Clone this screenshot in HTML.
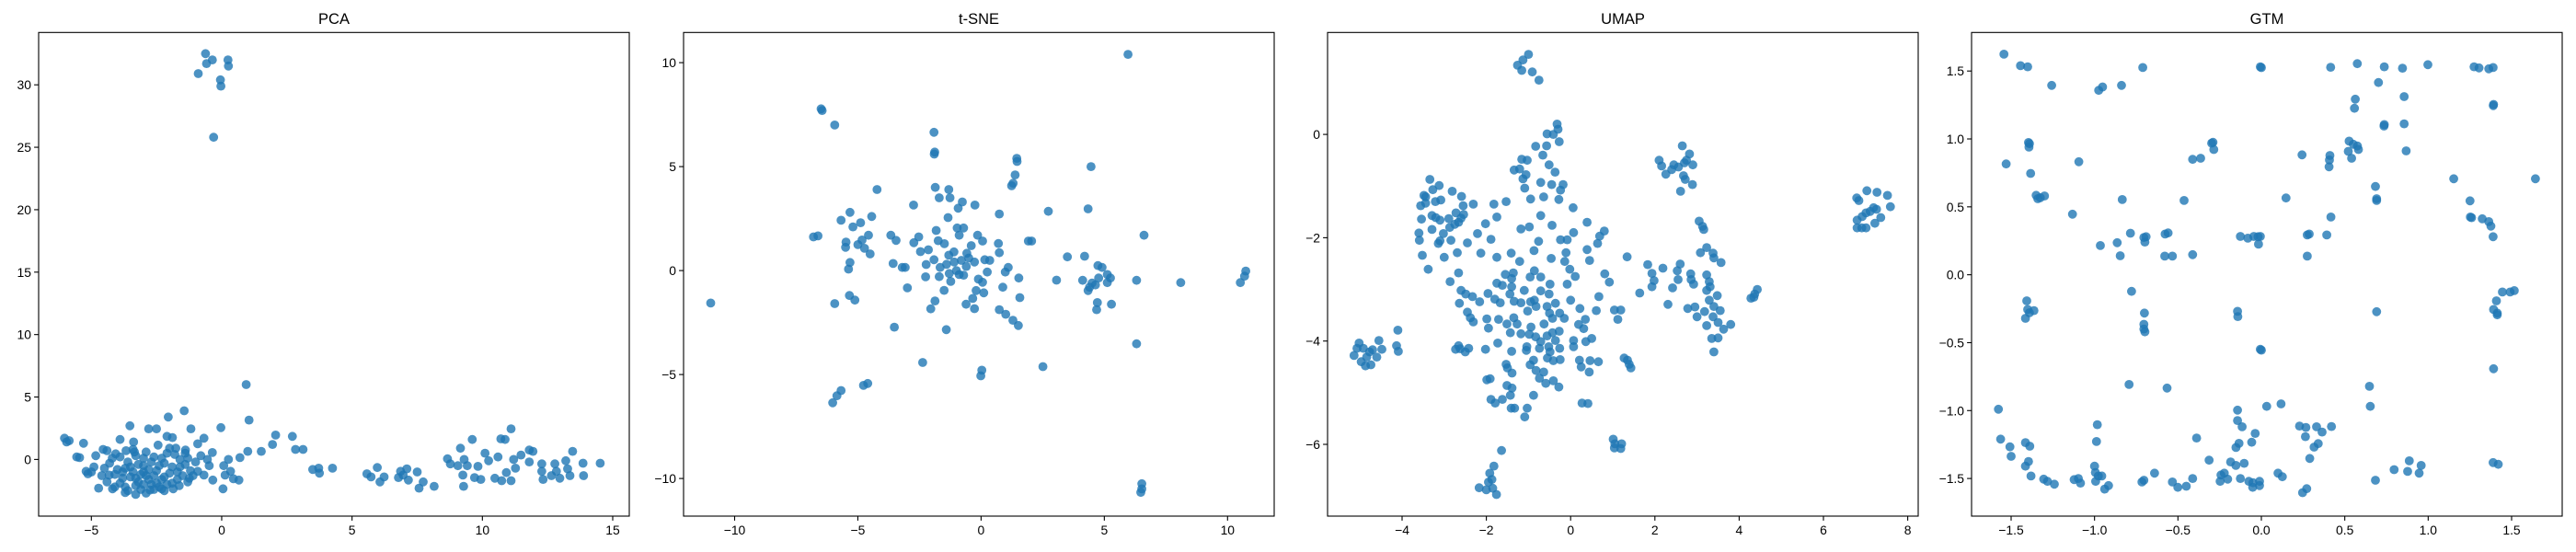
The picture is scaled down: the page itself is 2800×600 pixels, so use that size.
<!DOCTYPE html>
<html><head><meta charset="utf-8"><style>
html,body{margin:0;padding:0;background:#fff;}
svg{display:block;font-family:"Liberation Sans","DejaVu Sans",sans-serif;}
</style></head><body>
<svg id="fig" width="2800" height="600" viewBox="0 0 2800 600" xmlns="http://www.w3.org/2000/svg"></svg>
<script>
const pcaPoints=[[-0.62,32.5],[-0.36,32.0],[-0.58,31.7],[-0.9,30.9],[0.24,32.0],[0.26,31.5],[-0.05,30.4],[-0.03,29.9],[-0.31,25.8],
[0.94,6.0],[-1.44,3.9],[1.05,3.15],[-2.05,3.4],[-3.52,2.7],[-1.18,2.45],[-2.8,2.45],[-2.5,2.45],[-0.03,2.55],[-3.9,1.6],[-3.38,1.4],[-2.1,1.85],[-1.89,1.75],[-0.68,1.7],[-6.03,1.7],[-5.85,1.5],[-5.3,1.3],[-5.95,1.4],
[2.07,1.95],[2.71,1.85],[1.95,1.2],[2.83,0.8],[3.12,0.8],[1.52,0.65],[1.0,0.65],[0.7,0.15],[0.26,0],[-0.36,0.55],[0.08,-0.5],[0.34,-0.95],[0.45,-1.55],[0.66,-1.65],[0.05,-2.35],[0.13,-1.25],[-0.34,-1.65],
[3.49,-0.8],[3.72,-0.7],[3.75,-1.1],[4.25,-0.7],
[5.57,-1.15],[5.73,-1.4],[5.97,-0.65],[6.07,-1.8],[6.23,-1.4],[6.78,-1.45],[6.86,-0.95],[7.1,-0.75],[7.16,-1.65],[7.5,-1.0],[7.57,-2.3],[7.73,-1.8],[8.15,-2.15],[6.96,-1.25],
[8.66,0.05],[9.16,0.9],[9.61,1.6],[8.77,-0.35],[9.06,-0.5],[9.3,0],[9.42,-0.5],[9.25,-1.25],[9.28,-2.15],[9.7,-1.45],[9.83,-0.55],[9.94,-1.6],[10.1,0.5],[10.24,-0.1],[10.6,0.2],[10.48,-1.5],[10.71,1.65],[10.87,1.6],[11.1,2.45],[10.74,-1.7],[10.92,-1.05],[11.1,-1.7],[11.2,0],[11.27,-0.7],[11.48,0.35],[11.8,0.75],[11.94,0.65],[11.8,-0.2],[12.28,-0.35],[12.28,-0.95],[12.33,-1.6],[12.65,-1.3],[12.78,-0.35],[12.84,-0.95],[12.97,-1.5],[13.2,-0.1],[13.27,-0.75],[13.36,-1.3],[13.46,0.65],[13.86,-0.3],[13.88,-1.3],[14.52,-0.3],
[-5.56,0.2],[-5.45,0.15],[-5.2,-0.95],[-5.13,-1.15],[-4.72,-2.3],[-4.55,0.8],[-4.4,0.7],[-4.83,0.3],[-4.32,-1.25],[-4.19,-2.35],[-3.3,-2.8],[-3.7,-2.65],[-2.75,-2.45],[-2.3,-2.35],[-1.86,-2.35],[-1.63,-2.1],[-1.24,-1.5],[-0.92,-0.95],[-0.68,-1.25],[-0.48,-0.5],[-0.55,0],[-0.92,1.25],[-1.39,0.75],[-1.76,0.9],[-2.44,1.15],[-3.35,0.6],[-3.67,0.7],[-4.07,0.45],
[-4.3,-0.3],[-4.0,-0.8],[-3.8,-1.5],[-3.6,-0.2],[-3.4,-1.0],[-3.2,-1.8],[-3.0,-0.5],[-2.9,-1.3],[-2.7,-2.0],[-2.6,0.2],[-2.5,-0.9],[-2.3,-1.6],[-2.2,-0.3],[-2.0,-1.1],[-1.9,-1.9],[-1.8,0.4],[-1.6,-0.6],[-1.5,-1.3],[-1.3,0.1],[-1.2,-0.9],[-3.9,0.2],[-3.7,-2.2],[-3.3,0.3],[-3.1,-2.4],[-2.8,-1.6],[-2.4,-2.2],[-2.1,0.5],[-1.7,-1.6],[-4.6,-1.3],[-4.4,-1.8],[-4.1,-2.2],[-3.5,-1.4],[-3.0,-1.0],[-2.7,-0.2],[-3.2,-0.4],[-2.4,-0.5],[-1.0,-0.2],[-0.8,0.3],[-3.8,-1.0],[-4.9,-0.6],[-5.0,-1.0],[-3.6,-2.5],[-2.9,-2.7],[-2.2,-2.5],[-3.4,0.8],[-2.9,0.6],[-2.0,0.9],[-1.4,0.5],
[-4.1,-1.2],[-3.9,-1.9],[-3.5,-0.6],[-3.3,-2.1],[-3.1,-1.2],[-2.8,-0.8],[-2.6,-1.3],[-2.5,-1.9],[-2.2,-1.4],[-1.9,-0.6],[-1.7,-1.0],[-1.4,-0.4],[-4.2,0.1],[-3.0,0.1],[-2.3,0.1],[-1.6,0.0],[-3.7,-0.7],[-3.3,-1.5],[-2.6,-2.4],[-1.3,-1.8],[-4.5,-0.7],[-3.0,-2.0],[-2.1,-2.0],[-1.1,-1.3]];
const pcaXTicks=[-5,0,5,10,15];
const pcaYTicks=[0,5,10,15,20,25,30];

const tsnePoints=[[5.96,10.4],[-6.49,7.78],[-6.45,7.7],[-5.94,7.0],[-1.91,6.65],[-1.9,5.6],[-1.88,5.7],[1.45,5.4],[1.46,5.25],[4.46,5.0],[1.38,4.6],[1.24,4.08],[1.3,4.2],[-4.22,3.9],[-1.86,4.0],[-1.31,3.9],[-1.26,3.5],[-1.7,3.5],[-0.76,3.3],[-0.25,3.15],[-2.74,3.15],[2.73,2.85],[4.34,2.97],[0.74,2.72],[-0.93,3.0],[-1.34,2.55],[-5.32,2.8],[-4.44,2.6],[-5.68,2.42],[-4.89,2.3],[-5.2,2.1],[-6.62,1.67],[-6.8,1.62],[-1.82,1.93],[-0.97,2.05],[-0.71,2.05],[-3.66,1.7],[-3.45,1.45],[-2.53,1.62],[-2.73,1.34],[-2.46,0.91],[-2.14,1.0],[-1.74,1.44],[-1.49,1.29],[-0.89,1.7],[-0.14,1.7],[0.06,1.42],[-0.4,1.2],[0.7,1.3],[0.74,0.86],[2.05,1.42],[1.92,1.42],[6.61,1.7],[3.5,0.66],[4.2,0.69],[-4.57,1.7],[-4.83,1.47],[-5.0,1.25],[-5.48,1.37],[-5.5,1.12],[-4.73,1.07],[-4.5,0.8],[-5.32,0.39],[-5.38,0.07],[-3.57,0.34],[-3.2,0.15],[-3.08,0.15],[-2.23,0.29],[-1.91,0.52],[-1.66,0.15],[-1.31,0.74],[-1.09,0.41],[-0.8,0.49],[-0.58,0.83],[-0.27,0.41],[0.15,0.52],[0.35,0.49],[1.1,0.15],[0.98,-0.07],[0.25,-0.07],[-0.11,-0.41],[0.06,-0.56],[-1.29,-0.14],[-1.7,-0.29],[-1.23,-0.52],[-0.89,-0.19],[-0.71,-0.22],[1.53,-0.36],[3.06,-0.46],[4.12,-0.47],[4.34,-0.96],[4.74,0.24],[4.91,0.15],[5.12,-0.19],[5.25,-0.36],[5.12,-0.58],[4.64,-0.69],[6.31,-0.47],[8.1,-0.58],[10.74,-0.02],[10.69,-0.27],[10.52,-0.58],[5.29,-1.62],[4.72,-1.54],[4.69,-1.88],[-10.97,-1.56],[-5.94,-1.59],[-5.34,-1.2],[-5.12,-1.42],[-2.99,-0.83],[-2.25,-0.3],[-1.5,-0.95],[-0.2,-0.96],[0.11,-1.07],[0.88,-0.8],[1.57,-1.3],[-1.87,-1.46],[-2.04,-1.84],[-0.61,-1.62],[-0.27,-1.83],[-0.34,-1.34],[0.74,-1.88],[1.0,-2.1],[1.51,-2.64],[1.29,-2.39],[-3.52,-2.72],[-1.41,-2.84],[6.31,-3.52],[-2.37,-4.42],[2.51,-4.62],[0.03,-4.79],[-0.01,-5.06],[-4.6,-5.43],[-4.77,-5.52],[-5.68,-5.77],[-5.85,-6.02],[-6.02,-6.36],[6.52,-10.25],[6.52,-10.5],[6.48,-10.67],[4.77,-0.36],[-1.1,0.9],[-0.5,0.6],[-1.0,0.0],[-0.6,0.2],[-1.4,0.3],[4.4,-0.8],[4.5,-0.6]];
const tsneXTicks=[-10,-5,0,5,10];
const tsneYTicks=[-10,-5,0,5,10];

const umapPoints=[[-1.0,1.55],[-1.13,1.44],[-1.26,1.34],[-1.16,1.24],[-0.91,1.21],[-0.75,1.05],[-0.32,0.2],[-0.3,0.1],[-0.56,0.01],[-0.41,0],[-0.27,-0.14],[-0.83,-0.23],[-0.57,-0.22],[-0.66,-0.4],[-1.16,-0.48],[-1.03,-0.5],[-1.34,-0.69],[-1.21,-0.67],[-0.51,-0.59],[-0.37,-0.73],[-1.06,-0.78],[-1.13,-0.86],[-0.71,-0.93],[-0.45,-0.97],[-0.18,-0.97],[-0.24,-1.08],[-0.64,-1.21],[-1.09,-1.04],[-0.95,-1.25],[-0.28,-1.26],[-1.53,-1.3],[0.06,-1.42],[-0.71,-1.57],[-1.75,-1.6],[-1.82,-1.35],[0.39,-1.7],[-0.44,-1.76],[-0.98,-1.79],[-1.18,-1.83],[-2.02,-1.73],[0.8,-1.87],[0.07,-1.9],[-2.21,-1.92],[-1.89,-2.03],[-0.76,-2.07],[-0.24,-2.04],[-0.08,-2.04],[0.69,-1.97],[0.64,-2.11],[0.39,-2.23],[-0.87,-2.25],[-1.41,-2.3],[-0.11,-2.29],[-2.13,-2.3],[-1.75,-2.38],[-0.46,-2.4],[0.45,-2.44],[-1.21,-2.46],[-0.14,-2.46],[1.34,-2.37],[-0.02,-2.61],[-0.86,-2.64],[-1.55,-2.71],[-1.36,-2.68],[0.11,-2.75],[-0.96,-2.76],[-0.71,-2.76],[0.81,-2.7],[0.92,-2.86],[-1.4,-2.79],[-1.75,-2.88],[-1.62,-2.92],[-0.49,-2.9],[-0.08,-2.9],[-1.4,-2.95],[-1.1,-3.02],[-0.71,-3.03],[-1.96,-3.08],[-1.44,-3.09],[-0.51,-3.09],[0.67,-3.14],[-1.8,-3.19],[-0.86,-3.21],[0,-3.21],[-1.67,-3.26],[-1.34,-3.23],[-1.18,-3.26],[-0.36,-3.27],[-0.95,-3.24],[-0.82,-3.33],[-0.56,-3.33],[0.22,-3.37],[0.61,-3.41],[1.04,-3.4],[1.19,-3.4],[-1.02,-3.42],[-0.5,-3.46],[-0.26,-3.46],[-0.15,-3.56],[1.12,-3.58],[0.35,-3.58],[-1.99,-3.57],[-1.71,-3.58],[-0.43,-3.56],[-1.35,-3.55],[-1.51,-3.67],[-1.27,-3.67],[-0.63,-3.67],[0.19,-3.68],[-0.94,-3.73],[-1.95,-3.75],[0.31,-3.76],[-1.43,-3.84],[-1.18,-3.86],[-0.43,-3.84],[-0.98,-3.87],[-0.27,-3.81],[-0.83,-3.92],[-0.56,-3.9],[0.5,-3.95],[0.07,-3.99],[-0.36,-3.99],[0.36,-4.01],[-0.71,-4.01],[-1.73,-4.04],[-1.04,-4.11],[-0.74,-4.14],[-0.52,-4.11],[-0.26,-4.14],[0.07,-4.11],[-1.4,-4.2],[-1.05,-4.18],[-0.49,-4.21],[-0.25,-4.36],[-0.55,-4.33],[-0.41,-4.38],[-0.88,-4.37],[0.21,-4.37],[0.46,-4.38],[0.66,-4.4],[0.25,-4.5],[-1.53,-4.45],[-1.5,-4.52],[-0.96,-4.46],[-0.82,-4.57],[-0.64,-4.6],[0.44,-4.6],[-1.39,-4.62],[-0.74,-4.72],[-1.99,-4.75],[-1.91,-4.73],[-0.59,-4.82],[-0.28,-4.89],[-0.41,-4.77],[-1.51,-4.86],[-1.39,-4.91],[-0.88,-5.05],[-1.43,-5.05],[-1.89,-5.13],[-1.62,-5.13],[-1.79,-5.2],[0.27,-5.2],[0.41,-5.21],[-1.41,-5.3],[-1.33,-5.3],[-1.03,-5.3],[-1.09,-5.47],[-1.64,-6.12],[-1.82,-6.42],[-1.92,-6.56],[-1.87,-6.68],[-2.17,-6.84],[-2.0,-6.88],[-1.85,-6.85],[-1.76,-6.97],[-1.95,-6.73],[1.01,-5.9],[1.05,-5.99],[1.04,-6.07],[1.19,-6.08],[1.21,-5.99],[1.27,-4.33],[1.35,-4.37],[1.39,-4.45],[1.43,-4.52],[-5.14,-4.28],[-5.02,-4.04],[-5.07,-4.14],[-4.97,-4.4],[-4.87,-4.48],[-4.74,-4.46],[-4.84,-4.31],[-4.7,-4.17],[-4.6,-4.31],[-4.55,-3.99],[-4.48,-4.16],[-4.92,-4.14],[-4.77,-4.21],[-4.1,-3.79],[-4.13,-4.09],[-4.09,-4.2],[-2.73,-4.16],[-2.66,-4.09],[-2.62,-4.15],[-2.5,-4.21],[-2.42,-4.14],[-2.02,-4.16],[-3.34,-0.87],[-3.12,-0.99],[-3.27,-1.07],[-3.48,-1.18],[-3.44,-1.21],[-3.21,-1.3],[-3.08,-1.27],[-3.56,-1.38],[-3.44,-1.33],[-2.81,-1.1],[-2.59,-1.2],[-2.55,-1.38],[-2.31,-1.35],[-3.29,-1.57],[-3.2,-1.61],[-3.1,-1.66],[-3.54,-1.64],[-2.89,-1.63],[-2.72,-1.52],[-2.54,-1.55],[-2.6,-1.62],[-2.66,-1.7],[-2.75,-1.74],[-2.87,-1.8],[-3.29,-1.84],[-3.02,-1.92],[-3.6,-1.91],[-3.59,-2.05],[-3.1,-2.06],[-2.84,-2.05],[-3.14,-2.11],[-2.45,-2.1],[-3.52,-2.34],[-2.69,-2.29],[-3.0,-2.38],[-3.38,-2.61],[-2.66,-2.68],[-2.86,-2.85],[-2.6,-3.02],[-2.49,-3.09],[-2.33,-3.14],[-2.16,-3.24],[-2.64,-3.27],[-2.45,-3.44],[-2.38,-3.55],[-2.31,-3.63],[2.1,-0.5],[2.16,-0.61],[2.65,-0.22],[2.26,-0.77],[2.45,-0.59],[2.4,-0.68],[2.56,-0.63],[2.7,-0.55],[2.82,-0.38],[2.75,-0.5],[2.9,-0.59],[2.68,-0.8],[2.72,-0.87],[2.89,-0.97],[2.61,-1.1],[3.05,-1.68],[3.13,-1.78],[3.16,-1.84],[3.08,-2.29],[3.23,-2.19],[3.38,-2.3],[3.4,-2.39],[3.57,-2.48],[1.83,-2.52],[2.19,-2.59],[2.6,-2.51],[2.53,-2.64],[1.93,-2.69],[1.98,-2.83],[1.93,-2.95],[2.55,-2.81],[2.85,-2.7],[2.86,-2.81],[2.92,-2.9],[3.23,-2.72],[3.29,-2.85],[3.31,-2.95],[3.48,-3.12],[3.23,-3.02],[2.42,-2.97],[1.64,-3.07],[3.29,-3.21],[3.4,-3.33],[2.31,-3.29],[2.78,-3.37],[2.95,-3.34],[3.18,-3.43],[3.38,-3.53],[3.55,-3.41],[3.0,-3.53],[3.5,-3.64],[3.63,-3.77],[3.8,-3.68],[3.23,-3.7],[3.35,-3.95],[3.5,-3.94],[3.4,-4.21],[4.28,-3.17],[4.37,-3.09],[4.43,-3.0],[4.35,-3.15],[6.79,-1.23],[6.84,-1.28],[7.03,-1.09],[7.27,-1.12],[7.52,-1.18],[7.59,-1.4],[7.19,-1.42],[7.11,-1.49],[7.01,-1.52],[6.92,-1.59],[6.8,-1.66],[7.36,-1.61],[7.22,-1.72],[6.8,-1.81],[6.91,-1.81],[7.01,-1.81],[7.26,-1.45]];
const umapXTicks=[-4,-2,0,2,4,6,8];
const umapYTicks=[-6,-4,-2,0];

const gtmPoints=[[-1.543,1.624],[-1.444,1.539],[-1.401,1.531],[-1.257,1.394],[-0.975,1.358],[-0.952,1.383],[-0.838,1.394],[-0.711,1.526],[-0.006,1.531],[0.0,1.525],[0.415,1.528],[0.575,1.554],[0.737,1.531],[0.846,1.521],[0.998,1.547],[1.275,1.531],[1.305,1.523],[1.363,1.516],[1.389,1.526],[0.702,1.415],[0.856,1.312],[0.563,1.293],[0.558,1.226],[1.392,1.254],[1.39,1.245],[0.737,1.106],[0.735,1.095],[0.856,1.111],[-1.396,0.974],[-1.39,0.965],[-1.393,0.94],[-0.298,0.969],[-0.29,0.975],[-0.285,0.922],[0.526,0.984],[0.551,0.961],[0.576,0.948],[0.521,0.909],[0.582,0.922],[0.541,0.858],[0.244,0.883],[0.411,0.878],[0.408,0.845],[0.406,0.795],[0.868,0.912],[-0.412,0.85],[-0.364,0.858],[-1.53,0.816],[-1.094,0.832],[-1.383,0.746],[1.153,0.707],[1.643,0.707],[0.684,0.65],[0.691,0.547],[0.691,0.56],[-1.35,0.585],[-1.325,0.567],[-1.3,0.58],[-1.34,0.56],[-0.834,0.554],[-0.463,0.547],[0.148,0.565],[-1.132,0.446],[0.417,0.425],[1.251,0.544],[1.253,0.425],[1.26,0.42],[1.324,0.412],[1.363,0.391],[1.376,0.358],[1.389,0.28],[-0.785,0.306],[-0.864,0.236],[-0.965,0.215],[-0.846,0.14],[-0.704,0.275],[-0.691,0.28],[-0.698,0.241],[-0.577,0.3],[-0.559,0.308],[-0.579,0.137],[-0.533,0.137],[-0.412,0.148],[-0.126,0.282],[-0.081,0.269],[-0.045,0.282],[-0.006,0.282],[-0.02,0.28],[-0.017,0.225],[0.275,0.293],[0.287,0.3],[0.275,0.137],[0.392,0.293],[-1.406,-0.192],[-1.401,-0.256],[-1.414,-0.321],[-1.363,-0.264],[-1.39,-0.28],[-0.778,-0.122],[-0.701,-0.282],[-0.704,-0.365],[-0.698,-0.42],[-0.704,-0.399],[-0.143,-0.269],[-0.141,-0.308],[0.691,-0.272],[1.392,-0.256],[1.414,-0.282],[1.409,-0.192],[1.445,-0.127],[1.491,-0.127],[1.516,-0.117],[1.414,-0.295],[-0.006,-0.549],[0.0,-0.555],[1.392,-0.692],[-0.793,-0.808],[-0.565,-0.834],[0.648,-0.821],[0.653,-0.969],[0.032,-0.969],[0.118,-0.951],[-1.576,-0.99],[-0.143,-0.997],[-0.143,-1.073],[-0.115,-1.119],[-0.983,-1.104],[-0.988,-1.228],[-0.388,-1.202],[-0.037,-1.168],[-0.058,-1.233],[-0.134,-1.241],[-0.152,-1.272],[0.229,-1.114],[0.267,-1.124],[0.331,-1.119],[0.42,-1.117],[0.364,-1.158],[0.264,-1.192],[0.316,-1.269],[0.341,-1.243],[0.29,-1.352],[-1.563,-1.21],[-1.507,-1.267],[-1.5,-1.337],[-1.414,-1.236],[-1.388,-1.262],[-1.414,-1.409],[-1.396,-1.375],[-1.381,-1.482],[-1.305,-1.505],[-1.282,-1.521],[-1.241,-1.542],[-1.122,-1.508],[-1.097,-1.5],[-1.084,-1.534],[-1.0,-1.409],[-0.995,-1.456],[-0.977,-1.482],[-0.957,-1.482],[-0.993,-1.521],[-0.939,-1.578],[-0.916,-1.552],[-0.716,-1.526],[-0.704,-1.513],[-0.64,-1.461],[-0.533,-1.526],[-0.501,-1.565],[-0.45,-1.557],[-0.412,-1.5],[-0.313,-1.365],[-0.242,-1.474],[-0.222,-1.461],[-0.247,-1.521],[-0.202,-1.505],[-0.184,-1.378],[-0.153,-1.404],[-0.103,-1.388],[-0.126,-1.5],[-0.075,-1.521],[-0.052,-1.565],[-0.05,-1.531],[-0.011,-1.521],[-0.011,-1.552],[0.1,-1.461],[0.126,-1.487],[0.247,-1.604],[0.272,-1.575],[0.684,-1.513],[0.796,-1.435],[0.887,-1.37],[0.877,-1.448],[0.946,-1.461],[0.958,-1.404],[1.389,-1.383],[1.42,-1.396]];
const gtmXTicks=[-1.5,-1.0,-0.5,0.0,0.5,1.0,1.5];
const gtmYTicks=[-1.5,-1.0,-0.5,0.0,0.5,1.0,1.5];

const NS="http://www.w3.org/2000/svg";
const svg=document.getElementById('fig');
function mk(tag,attrs,parent){const e=document.createElementNS(NS,tag);for(const k in attrs)e.setAttribute(k,attrs[k]);(parent||svg).appendChild(e);return e;}
function lin(d0,d1,p0,p1){return v=>p0+(v-d0)*(p1-p0)/(d1-d0);}
function fmt(v,dec){let s=dec?v.toFixed(1):String(v);return s.replace('-','\u2212');}

const TOP=35.3,BOT=561;
const panels=[
 {key:'pca',title:'PCA',pts:pcaPoints,xt:pcaXTicks,yt:pcaYTicks,L:42,R:684,x:lin(-5,15,99.3,666),y:lin(0,30,499.4,92.2),dec:false},
 {key:'tsne',title:'t-SNE',pts:tsnePoints,xt:tsneXTicks,yt:tsneYTicks,L:743,R:1385,x:lin(-10,10,798.5,1334.3),y:lin(-10,10,520.1,68.1),dec:false},
 {key:'umap',title:'UMAP',pts:umapPoints,xt:umapXTicks,yt:umapYTicks,L:1443,R:2085,x:lin(-4,8,1524,2073.6),y:lin(-6,0,483,146.1),dec:false},
 {key:'gtm',title:'GTM',pts:gtmPoints,xt:gtmXTicks,yt:gtmYTicks,L:2143,R:2785,x:lin(-1.5,1.5,2186,2730),y:lin(-1.5,1.5,520.1,77.2),dec:true}
];
panels.forEach(p=>{
 const g=mk('g',{});
 
 
 const cid='clip-'+p.key;
 const cp=mk('clipPath',{id:cid},g);
 mk('rect',{x:p.L,y:TOP,width:p.R-p.L,height:BOT-TOP},cp);
 const pg=mk('g',{'clip-path':'url(#'+cid+')'},g);
 
 
 p.pts.forEach(d=>{
  const c=mk('circle',{cx:p.x(d[0]).toFixed(1),cy:p.y(d[1]).toFixed(1),r:4.9,fill:'#1f77b4','fill-opacity':0.8},pg);
  
  
 });
 const fr=mk('rect',{x:p.L,y:TOP,width:p.R-p.L,height:BOT-TOP,fill:'none',stroke:'#000','stroke-width':1.1},g);
 
 
 const t=mk('text',{x:(p.L+p.R)/2,y:26,'text-anchor':'middle','font-size':16.5,fill:'#000'},g);
 t.textContent=p.title;
 
 
 p.xt.forEach(v=>{
  const X=p.x(v);
  mk('line',{x1:X,x2:X,y1:BOT,y2:BOT+4.9,stroke:'#000','stroke-width':1.1},g);
  const tx=mk('text',{x:X,y:BOT+20,'text-anchor':'middle','font-size':13.9,fill:'#000'},g);
  tx.textContent=fmt(v,p.dec);
  
  
 });
 p.yt.forEach(v=>{
  const Y=p.y(v);
  mk('line',{x1:p.L-4.9,x2:p.L,y1:Y,y2:Y,stroke:'#000','stroke-width':1.1},g);
  const ty=mk('text',{x:p.L-8,y:Y+5,'text-anchor':'end','font-size':13.9,fill:'#000'},g);
  ty.textContent=fmt(v,p.dec);
  
  
 });
});
</script>
</body></html>
